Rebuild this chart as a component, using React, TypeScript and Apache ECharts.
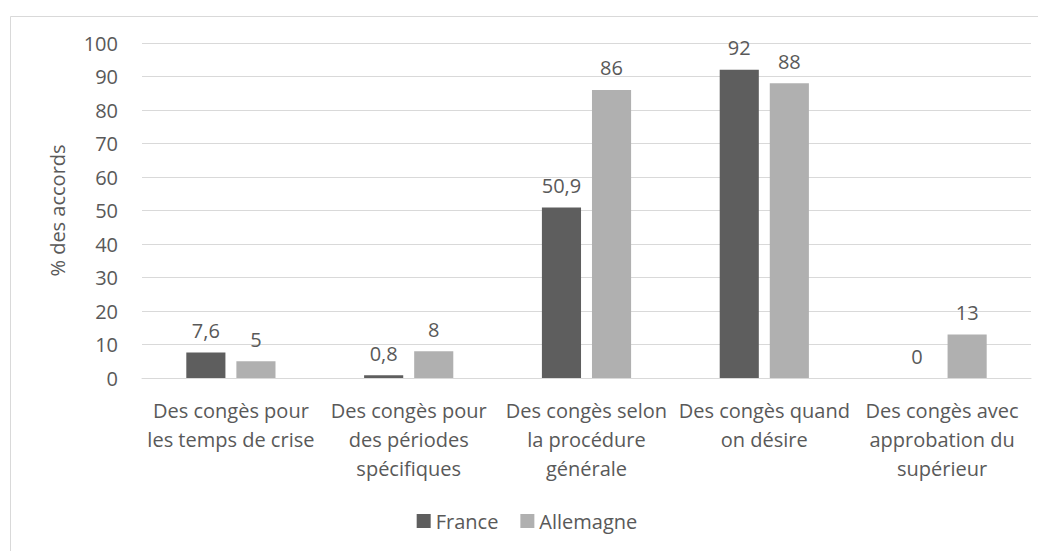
import React, { useEffect, useRef } from "react";
import * as echarts from "echarts";

const categories = [
  "Des congès pour\nles temps de crise",
  "Des congès pour\ndes périodes\nspécifiques",
  "Des congès selon\nla procédure\ngénérale",
  "Des congès quand\non désire",
  "Des congès avec\napprobation du\nsupérieur",
];
const france = [7.6, 0.8, 50.9, 92, 0];
const allemagne = [5, 8, 86, 88, 13];
const seriesNames = ["France", "Allemagne"];
const yTitle = "% des accords";

const FONT = "Open Sans";
const TEXT = "#595959";
const FS = 20;

export default function App() {
  const ref = useRef<HTMLDivElement>(null);
  useEffect(() => {
    const chart = echarts.init(ref.current!, undefined, { renderer: "svg" });
    const label = {
      show: true,
      position: "top" as const,
      distance: 12,
      color: TEXT,
      fontFamily: FONT,
      fontSize: FS,
      formatter: (p: any) => String(p.value).replace(".", ","),
    };
    chart.setOption({
      animation: false,
      textStyle: { fontFamily: FONT, color: TEXT },
      graphic: [
        {
          type: "rect",
          left: 0,
          top: 6,
          shape: { x: 0, y: 0, width: 1200, height: 700 },
          style: { fill: "none", stroke: "#d9d9d9", lineWidth: 1 },
          silent: true,
        },
      ],
      grid: { left: 134, right: 15, top: 35, bottom: 173 },
      legend: {
        data: seriesNames,
        bottom: 15,
        left: "center",
        itemWidth: 14,
        itemHeight: 14,
        itemGap: 22,
        icon: "rect",
        textStyle: { color: TEXT, fontFamily: FONT, fontSize: FS },
      },
      xAxis: {
        type: "category",
        data: categories,
        axisLine: { lineStyle: { color: "#d9d9d9" } },
        axisTick: { show: false },
        axisLabel: {
          color: TEXT,
          fontFamily: FONT,
          fontSize: FS,
          lineHeight: 29,
          margin: 18,
          interval: 0,
        },
      },
      yAxis: {
        type: "value",
        min: 0,
        max: 100,
        interval: 10,
        name: yTitle,
        nameLocation: "middle",
        nameGap: 75,
        nameTextStyle: { color: TEXT, fontFamily: FONT, fontSize: 20 },
        axisLine: { show: false },
        axisTick: { show: false },
        axisLabel: { color: TEXT, fontFamily: FONT, fontSize: FS, margin: 24 },
        splitLine: { lineStyle: { color: "#d9d9d9" } },
      },
      series: [
        {
          name: seriesNames[0],
          type: "bar",
          data: france,
          barWidth: "22%",
          barGap: "28%",
          itemStyle: { color: "#5e5e5e" },
          label,
        },
        {
          name: seriesNames[1],
          type: "bar",
          data: allemagne,
          barWidth: "22%",
          itemStyle: { color: "#b0b0b0" },
          label,
        },
      ],
    });
    return () => chart.dispose();
  }, []);
  return <div ref={ref} style={{ width: 1038, height: 543 }} />;
}
